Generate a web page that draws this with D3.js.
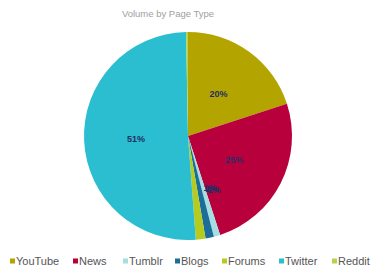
<!DOCTYPE html>
<html>
<head>
<meta charset="utf-8">
<script src="https://cdn.jsdelivr.net/npm/d3@7"></script>
<style>
body{margin:0;background:#fff;font-family:"Liberation Sans",Arial,sans-serif;}
</style>
</head>
<body>
<svg id="chart" width="374" height="268"></svg>
<script>
// data
var types = ['YouTube','News','Tumblr','Blogs','Forums','Twitter','Reddit']
var shares = [20, 25, 1, 1.3, 1.5, 50.9, 0.3]
var labels = ['20%','25%','1%','1%','1%','51%','']
var colors = ['#b3a400','#b8003c','#a6dfe2','#1c6d9a','#b5cc1e','#2bbed0','#b9d14a']

var svg = d3.select('#chart')
var cx = 188, cy = 136, r = 104

svg.append('text')
  .attr('x', 168).attr('y', 17)
  .attr('text-anchor','middle')
  .attr('font-size', 9.5).attr('fill','#a0a0a0')
  .text('Volume by Page Type')

var pie = d3.pie().sort(null).value(function(d){ return d })
var arcs = pie(shares)
var arc = d3.arc().innerRadius(0).outerRadius(r)
var g = svg.append('g').attr('transform','translate('+cx+','+cy+')')

g.selectAll('path').data(arcs).enter().append('path')
  .attr('d', arc)
  .attr('fill', function(d,i){ return colors[i] })

// label positions: big slices at ~0.5r, small ones pile up near centre bottom
var lab = d3.arc().innerRadius(r*0.5).outerRadius(r*0.5)
g.selectAll('text.l').data(arcs).enter().append('text')
  .attr('class','l')
  .attr('transform', function(d,i){
    var p = lab.centroid(d)
    if (shares[i] <= 5) { p[0] = 18 + i*2; p[1] = 50 + i }
    return 'translate('+p[0]+','+p[1]+')'
  })
  .attr('text-anchor','middle').attr('dy','0.35em')
  .attr('font-size', 9).attr('font-weight','bold').attr('fill','#1f2f66')
  .text(function(d,i){ return labels[i] })

// legend
var legX = [10, 73, 123, 175, 222, 279, 332]
var leg = svg.selectAll('g.leg').data(types).enter().append('g')
  .attr('class','leg')
  .attr('transform', function(d,i){ return 'translate('+legX[i]+',261)' })
leg.append('rect').attr('x',0).attr('y',-2.5).attr('width',5).attr('height',5)
  .attr('fill', function(d,i){ return colors[i] })
leg.append('text').attr('x',6).attr('y',0).attr('dy','0.35em')
  .attr('font-size',11).attr('fill','#555')
  .text(function(d){ return d })
</script>
</body>
</html>
